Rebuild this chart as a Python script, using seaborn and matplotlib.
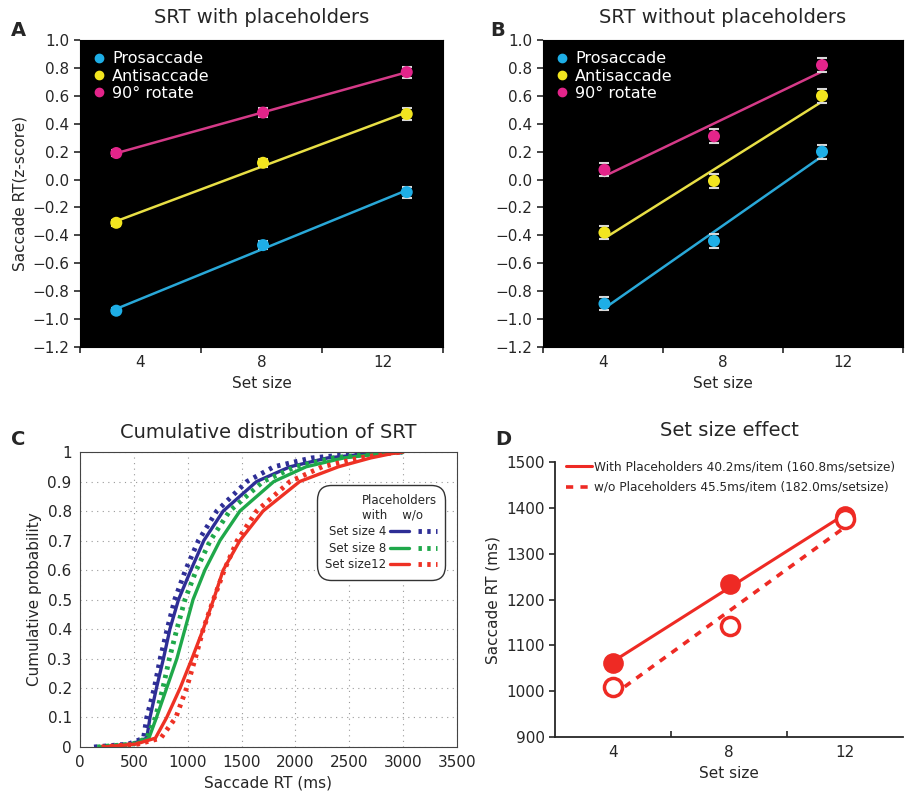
import numpy as np
import pandas as pd
import matplotlib.pyplot as plt
import seaborn as sns
from matplotlib.lines import Line2D

sns.set_style("ticks")
plt.rcParams['font.family'] = ['DejaVu Sans']

# ---- panels A / B: z-scored SRT per set size ----
conditions = ['Prosaccade', 'Antisaccade', '90° rotate']
dot_colors = ['#1eaee6', '#f2e51f', '#e3248a']
fit_colors = ['#29a8d8', '#e8df45', '#d53a88']

a_setsize = [3.2, 8.05, 12.8]
a_pro = [-0.94, -0.47, -0.09]
a_anti = [-0.31, 0.12, 0.47]
a_rot = [0.19, 0.48, 0.77]
a_err = [0.02, 0.03, 0.04]

b_setsize = [4.05, 7.7, 11.3]
b_pro = [-0.89, -0.44, 0.20]
b_anti = [-0.38, -0.01, 0.60]
b_rot = [0.07, 0.31, 0.82]
b_err = [0.045, 0.05, 0.05]

zticks = [-1.2, -1.0, -0.8, -0.6, -0.4, -0.2, 0.0, 0.2, 0.4, 0.6, 0.8, 1.0]

# ---- panel C: cumulative distribution of SRT ----
cum_prob = [0, 0.01, 0.03, 0.1, 0.2, 0.3, 0.4, 0.5, 0.6, 0.7, 0.8, 0.9, 0.95, 0.98, 0.995, 1.0]
rt_s4_with = [200, 480, 620, 650, 710, 775, 835, 915, 1030, 1150, 1330, 1640, 1950, 2300, 2700, 3000]
rt_s4_wo = [130, 450, 590, 620, 690, 745, 810, 880, 980, 1100, 1270, 1550, 1800, 2150, 2600, 3000]
rt_s8_with = [180, 500, 640, 710, 805, 900, 975, 1050, 1160, 1300, 1485, 1800, 2100, 2450, 2800, 3000]
rt_s8_wo = [160, 490, 620, 700, 770, 830, 900, 975, 1080, 1210, 1390, 1700, 2000, 2350, 2750, 3000]
rt_s12_with = [220, 520, 700, 805, 930, 1040, 1145, 1240, 1330, 1485, 1700, 2040, 2400, 2700, 2900, 3000]
rt_s12_wo = [200, 540, 750, 890, 990, 1070, 1145, 1240, 1340, 1460, 1640, 1950, 2250, 2600, 2850, 3000]
cdf_colors = ['#2e2e96', '#1fa84a', '#ee3124']
cdf_labels = ['Set size 4', 'Set size 8', 'Set size12']

# ---- panel D: set size effect ----
d_setsize = [4, 8.05, 12]
d_with = [1062, 1233, 1383]
d_wo = [1008, 1143, 1375]
d_labels = ['With Placeholders 40.2ms/item (160.8ms/setsize)',
            'w/o Placeholders 45.5ms/item (182.0ms/setsize)']

fig = plt.figure(figsize=(9.06, 7.94), dpi=100)
axA = fig.add_axes([0.0883, 0.563, 0.4007, 0.3866])
axB = fig.add_axes([0.5993, 0.563, 0.3974, 0.3866])
axC = fig.add_axes([0.0883, 0.0592, 0.416, 0.3715])
axD = fig.add_axes([0.6126, 0.0718, 0.384, 0.3463])


def zscore_panel(ax, xs, series, err, title):
    ax.set_facecolor('black')
    for ys, dc, fc in zip(series, dot_colors, fit_colors):
        sns.regplot(x=xs, y=ys, ax=ax, scatter=False, ci=None,
                    line_kws=dict(color=fc, lw=1.8))
        ax.errorbar(xs, ys, yerr=err, fmt='none', ecolor='#d8d8d8',
                    elinewidth=1.5, capsize=3.5, capthick=1.5, zorder=3)
        sns.scatterplot(x=xs, y=ys, ax=ax, color=dc, s=75,
                        edgecolor='none', zorder=4)
    ax.set_xlim(2, 14)
    ax.set_ylim(-1.2, 1.0)
    ax.set_yticks(zticks)
    ax.set_yticklabels([f'{v:.1f}'.replace('-', '\u2212') for v in zticks])
    ax.set_xticks([4, 8, 12])
    ax.set_xticks([2, 6, 10, 14], minor=True)
    ax.tick_params(axis='x', which='major', length=0, labelsize=11, pad=6)
    ax.tick_params(axis='x', which='minor', length=4, width=1.2, direction='out')
    ax.tick_params(axis='y', labelsize=11, length=4, width=1.2)
    ax.set_xlabel('Set size', fontsize=11)
    ax.set_title(title, fontsize=14, pad=12)
    for s in ax.spines.values():
        s.set_color('black')
    handles = [Line2D([], [], marker='o', ls='none', color=c, markersize=6)
               for c in dot_colors]
    ax.legend(handles, conditions, loc='upper left', frameon=False,
              labelcolor='white', fontsize=11.5, handletextpad=0.3,
              borderaxespad=0.3, labelspacing=0.15, handlelength=1.0)


zscore_panel(axA, a_setsize, [a_pro, a_anti, a_rot], a_err, 'SRT with placeholders')
axA.set_ylabel('Saccade RT(z-score)', fontsize=11)
zscore_panel(axB, b_setsize, [b_pro, b_anti, b_rot], b_err, 'SRT without placeholders')
axB.set_ylabel('')

# panel C
with_curves = [rt_s4_with, rt_s8_with, rt_s12_with]
wo_curves = [rt_s4_wo, rt_s8_wo, rt_s12_wo]
dots = (0, (0.7, 1.1))
solid_h, dot_h = [], []
for rw, rwo, c, lab in zip(with_curves, wo_curves, cdf_colors, cdf_labels):
    sns.lineplot(x=rw, y=cum_prob, ax=axC, color=c, lw=2.4, sort=False)
    sns.lineplot(x=rwo, y=cum_prob, ax=axC, color=c, lw=3.5, sort=False,
                 linestyle=dots)
    solid_h.append(Line2D([], [], color=c, lw=2.4))
    dot_h.append(Line2D([], [], color=c, lw=3.5, linestyle=dots))
axC.set_xlim(0, 3500)
axC.set_ylim(0, 1)
axC.set_xticks(np.arange(0, 3501, 500))
axC.set_yticks(np.arange(0, 1.01, 0.1))
axC.set_yticklabels(['0'] + [f'{v:.1f}' for v in np.arange(0.1, 0.95, 0.1)] + ['1'])
axC.grid(True, linestyle=(0, (1, 4)), color='#999999', lw=0.8)
axC.tick_params(labelsize=11, length=0, pad=6)
for s in axC.spines.values():
    s.set_color('#444444')
    s.set_linewidth(0.8)
axC.set_xlabel('Saccade RT (ms)', fontsize=11)
axC.set_ylabel('Cumulative probability', fontsize=11)
axC.set_title('Cumulative distribution of SRT', fontsize=14, pad=10)
legC = axC.legend(solid_h + dot_h, cdf_labels + ['', '', ''], ncol=2,
                  markerfirst=False, title='Placeholders\nwith    w/o  ',
                  alignment='right', loc='upper right',
                  bbox_to_anchor=(0.975, 0.895), fontsize=8.5,
                  title_fontsize=8.5, handlelength=1.6, handletextpad=0.3,
                  columnspacing=0.5, labelspacing=0.3, fancybox=True,
                  framealpha=1, edgecolor='#333333')
legC.get_frame().set_boxstyle('round,pad=0.3,rounding_size=1.2')
legC.get_frame().set_linewidth(1.0)

# panel D
sns.regplot(x=d_setsize, y=d_with, ax=axD, scatter=False, ci=None,
            line_kws=dict(color='#ee2a24', lw=2.2))
sns.regplot(x=d_setsize, y=d_wo, ax=axD, scatter=False, ci=None,
            line_kws=dict(color='#ee2a24', lw=2.6, linestyle=(0, (2, 2))))
sns.scatterplot(x=d_setsize, y=d_with, ax=axD, color='#ee2a24', s=190,
                edgecolor='#ee2a24', zorder=4)
sns.scatterplot(x=d_setsize, y=d_wo, ax=axD, facecolor='white', s=170,
                edgecolor='#ee2a24', linewidth=2.5, zorder=4)
axD.set_xlim(2, 14)
axD.set_ylim(900, 1500)
axD.set_yticks(np.arange(900, 1501, 100))
axD.set_xticks([4, 8, 12])
axD.set_xticks([6, 10], minor=True)
axD.tick_params(axis='x', which='major', length=0, labelsize=11, pad=6)
axD.tick_params(axis='x', which='minor', length=4, width=1.2, direction='in')
axD.tick_params(axis='y', labelsize=11, length=4, width=1.2)
sns.despine(ax=axD)
for s in axD.spines.values():
    s.set_linewidth(1.3)
axD.set_xlabel('Set size', fontsize=11)
axD.set_ylabel('Saccade RT (ms)', fontsize=11)
axD.set_title('Set size effect', fontsize=14, pad=19)
d_handles = [Line2D([], [], color='#ee2a24', lw=2.2),
             Line2D([], [], color='#ee2a24', lw=2.6, linestyle=(0, (2, 2)))]
axD.legend(d_handles, d_labels, loc='upper left', bbox_to_anchor=(0.0, 1.045),
           frameon=False, fontsize=8.7, handlelength=2.2, handletextpad=0.1,
           labelspacing=0.6)

for lab, x, y in [('A', 0.012, 0.962), ('B', 0.541, 0.962),
                  ('C', 0.012, 0.446), ('D', 0.547, 0.446)]:
    fig.text(x, y, lab, fontsize=14, fontweight='bold', ha='left', va='center')

fig.savefig('out.png', dpi=100)
